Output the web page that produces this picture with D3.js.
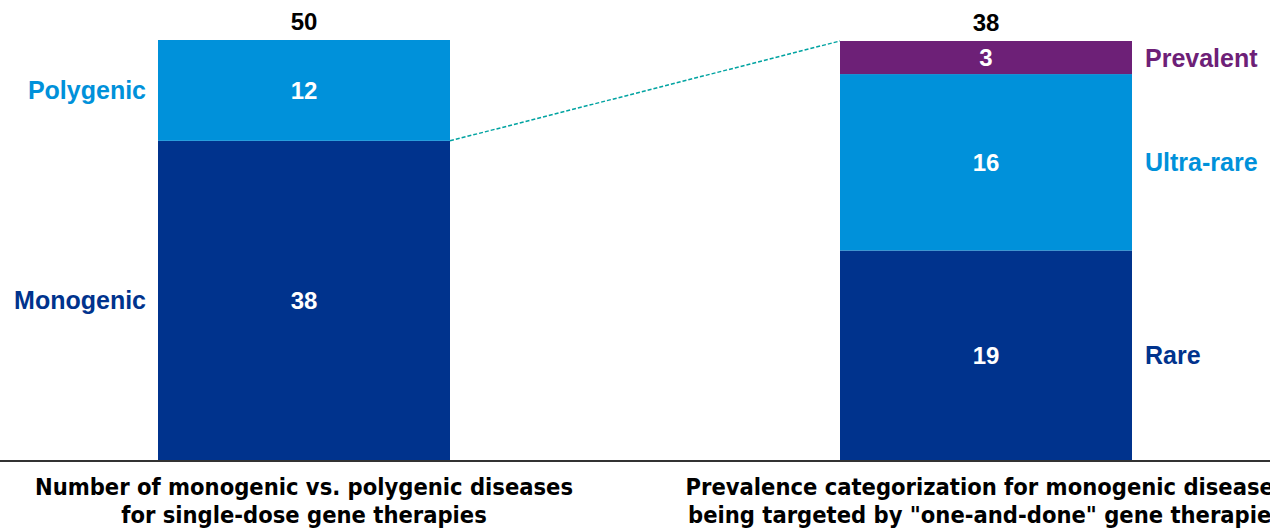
<!DOCTYPE html>
<html lang="en">
<head>
<meta charset="UTF-8">
<title>Single-dose gene therapies</title>
<script src="https://cdn.jsdelivr.net/npm/d3@7"></script>
<style>
    body { margin: 0; background: #fff; }
    text { font-family: "Liberation Sans", Arial, sans-serif; font-weight: bold; }
    .title { font-family: "Liberation Sans Narrow", "Arial Narrow", "DejaVu Sans Condensed", sans-serif; }
</style>
</head>
<body>
<svg width="1270" height="531"></svg>
<script>
// data
var leftCategories = ["Monogenic", "Polygenic"];
var leftValues = [38, 12];
var rightCategories = ["Rare", "Ultra-rare", "Prevalent"];
var rightValues = [19, 16, 3];
var titles = [
    ["Number of monogenic vs. polygenic diseases", "for single-dose gene therapies"],
    ["Prevalence categorization for monogenic diseases", "being targeted by \"one-and-done\" gene therapies"]
];

var colors = {
    "Monogenic": "#00338D", "Polygenic": "#0091DA",
    "Rare": "#00338D", "Ultra-rare": "#0091DA", "Prevalent": "#6D2077"
};

var width = 1270, height = 531;
var baseY = 460;
var barW = 292;
var svg = d3.select("svg");

// bar centres
var x = d3.scalePoint().domain(["left", "right"]).range([304, 986]);

var yLeft = d3.scaleLinear().domain([0, d3.sum(leftValues)]).range([baseY, 40]);
var yRight = d3.scaleLinear().domain([0, d3.sum(rightValues)]).range([baseY, 41]);

function stackUp(cats, vals) {
    var acc = 0;
    return cats.map(function(c, i) {
        var d = { name: c, value: vals[i], y0: acc, y1: acc + vals[i] };
        acc += vals[i];
        return d;
    });
}

function drawBar(key, cats, vals, y, labelSide) {
    var segs = stackUp(cats, vals);
    var cx = x(key);
    var g = svg.append("g");

    g.selectAll("rect")
        .data(segs)
        .enter()
        .append("rect")
        .attr("x", cx - barW / 2)
        .attr("width", barW)
        .attr("y", function(d) { return y(d.y1); })
        .attr("height", function(d) { return y(d.y0) - y(d.y1); })
        .attr("fill", function(d) { return colors[d.name]; });

    // values inside segments
    g.selectAll("text.val")
        .data(segs)
        .enter()
        .append("text")
        .attr("class", "val")
        .attr("x", cx)
        .attr("y", function(d) { return (y(d.y0) + y(d.y1)) / 2; })
        .attr("dy", "0.36em")
        .attr("text-anchor", "middle")
        .style("font-size", "24px")
        .style("fill", "#fff")
        .text(function(d) { return d.value; });

    // category labels beside the bar
    g.selectAll("text.cat")
        .data(segs)
        .enter()
        .append("text")
        .attr("class", "cat")
        .attr("x", labelSide == "left" ? cx - barW / 2 - 12 : cx + barW / 2 + 13)
        .attr("y", function(d) { return (y(d.y0) + y(d.y1)) / 2; })
        .attr("dy", "0.36em")
        .attr("text-anchor", labelSide == "left" ? "end" : "start")
        .style("font-size", "25px")
        .style("fill", function(d) { return colors[d.name]; })
        .text(function(d) { return d.name; });

    // total on top
    var total = d3.sum(vals);
    g.append("text")
        .attr("x", cx)
        .attr("y", y(total) - 19)
        .attr("dy", "0.36em")
        .attr("text-anchor", "middle")
        .style("font-size", "24px")
        .style("fill", "#000")
        .text(total);
}

drawBar("left", leftCategories, leftValues, yLeft, "left");
drawBar("right", rightCategories, rightValues, yRight, "right");

// dashed connector from monogenic top to right bar top
svg.append("line")
    .attr("x1", x("left") + barW / 2)
    .attr("y1", yLeft(leftValues[0]))
    .attr("x2", x("right") - barW / 2)
    .attr("y2", yRight(d3.sum(rightValues)))
    .style("stroke", "#00A3A1")
    .style("stroke-width", 1.5)
    .style("stroke-dasharray", "4,2");

// baseline
svg.append("line")
    .attr("x1", 0).attr("x2", width)
    .attr("y1", baseY + 1).attr("y2", baseY + 1)
    .style("stroke", "#333")
    .style("stroke-width", 2);

// titles under the bars
["left", "right"].forEach(function(k, i) {
    var t = svg.append("text")
        .attr("class", "title")
        .attr("text-anchor", "middle")
        .style("font-size", "23.5px")
        .style("fill", "#000");
    titles[i].forEach(function(line, j) {
        t.append("tspan")
            .attr("x", x(k))
            .attr("y", 495 + j * 28)
            .text(line);
    });
});
</script>
</body>
</html>
